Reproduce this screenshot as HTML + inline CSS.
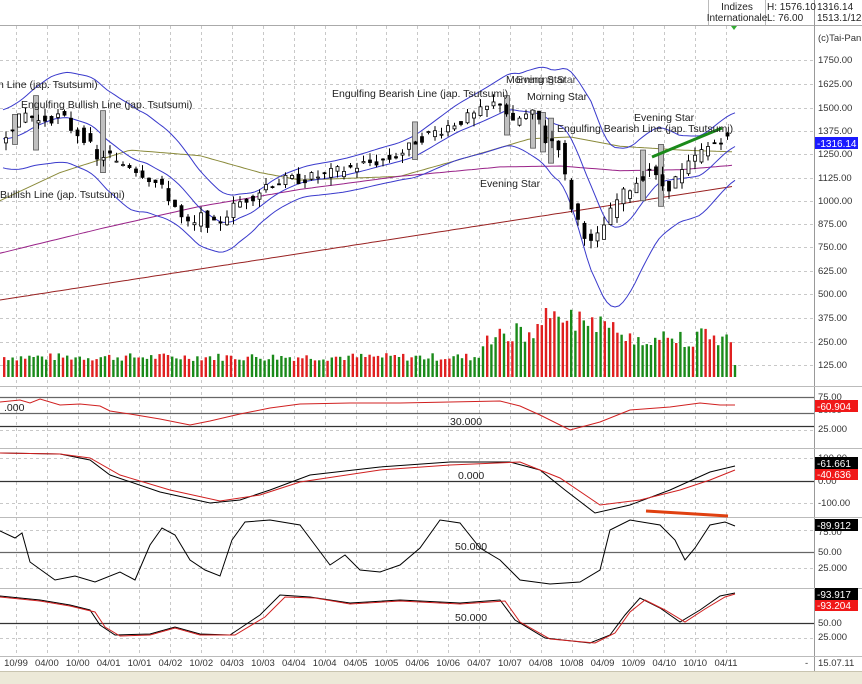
<!DOCTYPE html>
<html><head><meta charset="utf-8"><style>
html,body{margin:0;padding:0;background:#fff;}
body{width:862px;height:684px;overflow:hidden;position:relative;font-family:"Liberation Sans",sans-serif;}
svg{position:absolute;left:0;top:0;}
text{font-family:"Liberation Sans",sans-serif;font-size:10px;fill:#222;}
.ax{font-size:9.5px;fill:#333;}
.lab{font-size:10.5px;fill:#222;}
</style></head><body>
<svg id="s" width="862" height="684" viewBox="0 0 862 684">
<rect x="0" y="0" width="862" height="684" fill="#fff"/>
<g id="grid" stroke="#c8c8c8" stroke-dasharray="3,3" stroke-width="1"></g>
<line x1="0" y1="25.5" x2="862" y2="25.5" stroke="#aaa"/>
<line x1="708.5" y1="0" x2="708.5" y2="25" stroke="#bbb"/>
<line x1="765.5" y1="0" x2="765.5" y2="25" stroke="#bbb"/>
<line x1="814.5" y1="0" x2="814.5" y2="684" stroke="#999"/>
<text x="737" y="10" text-anchor="middle" font-size="9">Indizes</text>
<text x="737" y="21" text-anchor="middle" font-size="9">Internationale</text>
<text x="767" y="10" font-size="9">H: 1576.10</text>
<text x="767" y="21" font-size="9">L: 76.00</text>
<text x="817" y="10" font-size="9">1316.14</text>
<text x="817" y="21" font-size="9">1513.1/12</text>
<polygon points="731,26 737,26 734,30" fill="#3a3"/>
<g stroke="#bbb" stroke-width="1">
<line x1="0" y1="386.5" x2="862" y2="386.5"/>
<line x1="0" y1="448.5" x2="862" y2="448.5"/>
<line x1="0" y1="517.5" x2="862" y2="517.5"/>
<line x1="0" y1="588.5" x2="862" y2="588.5"/>
<line x1="0" y1="656.5" x2="862" y2="656.5"/>
</g>
<rect x="0" y="671" width="862" height="13" fill="#ece9d8"/>
<line x1="0" y1="671.5" x2="862" y2="671.5" stroke="#c8c4b0"/>
<g id="plot"></g>
<g class="ax">
<text x="818" y="41" class="ax">(c)Tai-Pan</text>
<text x="818" y="63" class="ax">1750.00</text>
<text x="818" y="87" class="ax">1625.00</text>
<text x="818" y="111" class="ax">1500.00</text>
<text x="818" y="134" class="ax">1375.00</text>
<text x="818" y="157" class="ax">1250.00</text>
<text x="818" y="181" class="ax">1125.00</text>
<text x="818" y="204" class="ax">1000.00</text>
<text x="818" y="227" class="ax">875.00</text>
<text x="818" y="250" class="ax">750.00</text>
<text x="818" y="274" class="ax">625.00</text>
<text x="818" y="297" class="ax">500.00</text>
<text x="818" y="321" class="ax">375.00</text>
<text x="818" y="345" class="ax">250.00</text>
<text x="818" y="368" class="ax">125.00</text>
<text x="818" y="400" class="ax">75.00</text>
<text x="818" y="413" class="ax">50.00</text>
<text x="818" y="432" class="ax">25.000</text>
<text x="818" y="461" class="ax">100.00</text>
<text x="818" y="484" class="ax">0.00</text>
<text x="818" y="506" class="ax">-100.00</text>
<text x="818" y="535" class="ax">75.00</text>
<text x="818" y="555" class="ax">50.00</text>
<text x="818" y="571" class="ax">25.000</text>
<text x="818" y="626" class="ax">50.00</text>
<text x="818" y="640" class="ax">25.000</text>
<text x="805" y="666" class="ax">-</text>
<text x="818" y="666" class="ax">15.07.11</text>
</g>
<rect x="815" y="137" width="43" height="12" fill="#1a1aff"/><text x="817" y="147" style="fill:#fff" font-size="9.5">-1316.14</text>
<rect x="815" y="400" width="43" height="12" fill="#f01818"/><text x="817" y="410" style="fill:#fff" font-size="9.5">-60.904</text>
<rect x="815" y="457" width="43" height="12" fill="#000"/><text x="817" y="467" style="fill:#fff" font-size="9.5">-61.661</text>
<rect x="815" y="469" width="43" height="11" fill="#f01818"/><text x="817" y="478" style="fill:#fff" font-size="9.5">-40.636</text>
<rect x="815" y="519" width="43" height="12" fill="#000"/><text x="817" y="529" style="fill:#fff" font-size="9.5">-89.912</text>
<rect x="815" y="588" width="43" height="12" fill="#000"/><text x="817" y="598" style="fill:#fff" font-size="9.5">-93.917</text>
<rect x="815" y="600" width="43" height="11" fill="#f01818"/><text x="817" y="609" style="fill:#fff" font-size="9.5">-93.204</text>
<g class="ax" text-anchor="middle" id="dates"></g>
<g id="labs"></g>
</svg>
<script>
var NS="http://www.w3.org/2000/svg",plot=document.getElementById('plot'),grid=document.getElementById('grid');
function el(t,a,p){var e=document.createElementNS(NS,t);for(var k in a)e.setAttribute(k,a[k]);(p||plot).appendChild(e);return e;}
function py(p){return 60+(1750-p)/125*23.45;}
for(var i=0;i<24;i++){var x=Math.round(16+i*30.87)+0.5;el('line',{x1:x,y1:26,x2:x,y2:656},grid);}
var hy=[60,84,108,131,154,178,201,224,247,271,294,318,342,365,397,430,458,503,530,568,638];
hy.forEach(function(y){el('line',{x1:0,y1:y+.5,x2:814,y2:y+.5},grid);});
var dl=["10/99","04/00","10/00","04/01","10/01","04/02","10/02","04/03","10/03","04/04","10/04","04/05","10/05","04/06","10/06","04/07","10/07","04/08","10/08","04/09","10/09","04/10","10/10","04/11"];
var dg=document.getElementById('dates');
dl.forEach(function(d,i){var t=el('text',{x:16+i*30.87,y:666,'class':'ax','text-anchor':'middle'},dg);t.textContent=d;});
[[397,'#666'],[413,'#666'],[426,'#333'],[481,'#333'],[552,'#666'],[623,'#333']].forEach(function(a){el('line',{x1:0,y1:a[0]+.5,x2:814,y2:a[0]+.5,stroke:a[1],'stroke-width':1.2});});
var K=[[3,1330],[15,1400],[30,1470],[40,1420],[50,1440],[65,1450],[75,1380],[90,1330],[100,1210],[110,1260],[120,1190],[130,1200],[145,1150],[160,1090],[175,1000],[185,900],[195,850],[205,920],[215,860],[225,900],[235,960],[245,1000],[260,1040],[270,1090],[290,1110],[310,1120],[330,1140],[350,1170],[370,1200],[390,1220],[410,1270],[420,1330],[440,1370],[460,1420],[480,1460],[495,1510],[505,1530],[515,1400],[525,1450],[540,1460],[550,1300],[560,1340],[566,1170],[575,960],[585,850],[595,760],[600,800],[610,900],[620,1000],[635,1080],[645,1130],[655,1190],[660,1100],[670,1070],[680,1120],[690,1180],[700,1240],[715,1300],[725,1340],[735,1316]];
function I(A,x){for(var i=0;i<A.length-1;i++)if(x<=A[i+1][0]){var a=A[i],b=A[i+1];return a[1]+(b[1]-a[1])*(x-a[0])/(b[0]-a[0]);}return A[A.length-1][1];}
function P(x){return I(K,x);}
var seed=7;function r(){seed=(seed*9301+49297)%233280;return seed/233280;}
for(var x=3;x<=735;x+=4.2){var h=16+r()*8;if(x>480)h=30+r()*25;if(x>540&&x<610)h=45+r()*25;if(x>620)h=30+r()*20;if(x>730)h=12;
el('rect',{x:x.toFixed(1),y:(377-h).toFixed(1),width:2.4,height:h.toFixed(1),fill:r()<0.55?'#1a8a1a':'#e02020'});}
function line(f,x0,x1,col,w){var pts=[];for(var x=x0;x<=x1;x+=4)pts.push(x+','+f(x).toFixed(1));el('polyline',{points:pts.join(' '),fill:'none',stroke:col,'stroke-width':w||1});}
function sm(x,n){var s=0,c=0;for(var d=-n;d<=0;d+=3){s+=P(Math.max(3,x+d));c++;}return s/c;}
var OL=[[0,1000],[60,1150],[130,1270],[200,1240],[260,1150],[300,1110],[400,1130],[460,1220],[530,1330],[570,1340],[620,1290],[680,1270],[735,1260]];
var PU=[[0,720],[100,850],[200,970],[300,1060],[400,1130],[500,1180],[560,1185],[620,1160],[680,1165],[735,1190]];
var W=[[0,150],[50,230],[130,280],[200,200],[260,90],[300,80],[400,100],[460,150],[520,200],[560,300],[590,450],[620,420],[680,230],[735,180]];
line(function(x){return py(I(OL,x));},0,735,'#8a8a3a');
line(function(x){return py(I(PU,x));},0,735,'#992288');
line(function(x){return 300-x*0.155;},0,735,'#992222');
line(function(x){return py(sm(x,40)+I(W,x));},3,735,'#3a3acc');
line(function(x){return py(sm(x,40)-I(W,x));},3,735,'#3a3acc');
line(function(x){return py(sm(x,40));},3,735,'#3a3acc');
[[15,1300,1460],[36,1270,1560],[103,1150,1480],[415,1220,1420],[507,1350,1560],[533,1280,1480],[543,1260,1470],[551,1200,1440],[643,1000,1270],[661,970,1300]].forEach(function(b){
el('rect',{x:b[0]-2.5,y:py(b[2]),width:5,height:py(b[1])-py(b[2]),fill:'#c0c0c0',stroke:'#555','stroke-width':0.8});});
for(var x=6;x<=733;x+=6.5){var o=P(x-3)+(r()-.5)*60,c=P(x+3)+(r()-.5)*60,hi=Math.max(o,c)+r()*45,lo=Math.min(o,c)-r()*45;
el('line',{x1:x,y1:py(hi),x2:x,y2:py(lo),stroke:'#000'});
var up=c>o;el('rect',{x:x-1.5,y:py(Math.max(o,c)),width:3,height:Math.max(1,Math.abs(py(o)-py(c))),fill:up?'#fff':'#000',stroke:'#000','stroke-width':0.8});}
el('line',{x1:652,y1:157,x2:722,y2:128,stroke:'#1a8a1a','stroke-width':3});
el('line',{x1:646,y1:511,x2:728,y2:516,stroke:'#e04010','stroke-width':3});
function pl(pts,col){el('polyline',{points:pts.map(function(p){return p.join(',')}).join(' '),fill:'none',stroke:col,'stroke-width':1});}
pl([[0,402],[20,400],[30,403],[40,399],[60,405],[80,404],[100,406],[110,411],[130,414],[160,419],[190,425],[210,421],[240,414],[270,408],[300,404],[350,403],[400,403],[450,402],[500,401],[520,406],[540,415],[570,430],[600,422],[630,410],[670,407],[700,403],[720,405],[735,405]],'#d02020');
pl([[0,453],[60,454],[90,460],[110,475],[160,492],[210,503],[240,500],[270,490],[310,475],[380,467],[450,462],[510,462],[540,470],[565,490],[595,513],[630,505],[670,490],[710,472],[735,466]],'#000');
pl([[0,453],[60,454],[90,458],[120,475],[170,490],[220,501],[260,495],[300,482],[380,470],[450,465],[520,462],[560,478],[600,505],[640,500],[680,490],[710,480],[735,470]],'#d02020');
pl([[0,531],[15,538],[22,533],[30,562],[55,580],[75,576],[95,582],[120,572],[135,580],[150,545],[162,528],[175,535],[190,560],[205,570],[220,576],[232,540],[245,522],[270,520],[300,525],[315,545],[330,565],[345,555],[360,570],[380,572],[400,565],[420,548],[440,520],[460,523],[480,548],[500,560],[520,580],[550,584],[580,582],[600,570],[610,530],[630,520],[660,525],[675,540],[685,560],[695,548],[710,525],[725,522],[735,526]],'#000');
pl([[0,596],[40,600],[70,605],[90,610],[100,625],[115,635],[150,634],[175,627],[200,634],[230,635],[260,615],[280,595],[310,597],[350,603],[400,600],[460,603],[500,600],[515,620],[545,638],[590,643],[610,635],[625,615],[640,598],[660,608],[680,622],[700,610],[720,596],[735,593]],'#000');
pl([[0,597],[40,601],[70,606],[95,612],[105,627],[120,636],[150,635],[175,628],[200,635],[235,635],[265,617],[285,597],[315,598],[350,604],[400,601],[460,604],[505,601],[520,622],[550,639],[595,643],[615,633],[630,612],[645,600],[665,610],[685,622],[705,609],[725,597],[735,594]],'#d02020');
// move labels on top
var s=document.getElementById('s');s.appendChild(document.getElementById('labs'));
</script>
<svg width="862" height="684" style="position:absolute;left:0;top:0;pointer-events:none">
<g>
<text x="-2" y="88" class="lab">n Line (jap. Tsutsumi)</text>
<text x="21" y="108" class="lab">Engulfing Bullish Line (jap. Tsutsumi)</text>
<text x="0" y="198" class="lab">Bullish Line (jap. Tsutsumi)</text>
<text x="332" y="97" class="lab">Engulfing Bearish Line (jap. Tsutsumi)</text>
<text x="506" y="83" class="lab">Morning Star</text>
<text x="516" y="83" class="lab" opacity="0.8">Evening Star</text>
<text x="527" y="100" class="lab">Morning Star</text>
<text x="557" y="132" class="lab">Engulfing Bearish Line (jap. Tsutsumi)</text>
<text x="480" y="187" class="lab">Evening Star</text>
<text x="634" y="121" class="lab">Evening Star</text>
<text x="450" y="425" class="lab" font-size="9">30.000</text>
<text x="4" y="411" class="lab" font-size="9">.000</text>
<text x="458" y="479" class="lab" font-size="9">0.000</text>
<text x="455" y="550" class="lab" font-size="9">50.000</text>
<text x="455" y="621" class="lab" font-size="9">50.000</text>
</g>
</svg>
</body></html>
